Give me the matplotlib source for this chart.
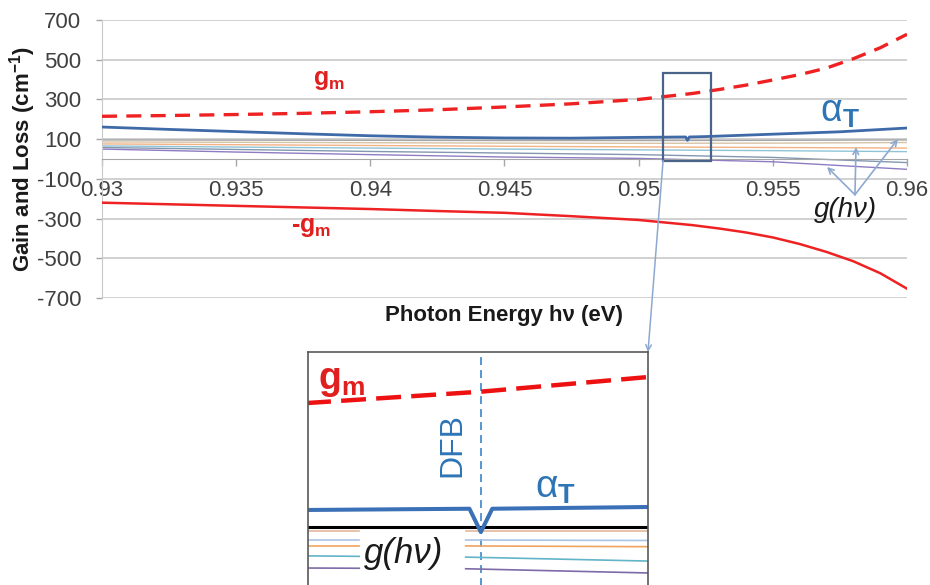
import matplotlib
matplotlib.use('Agg')
from matplotlib import pyplot as plt
from matplotlib.patches import Rectangle, ConnectionPatch

matplotlib.rcParams['font.family'] = ['Liberation Sans', 'DejaVu Sans']
matplotlib.rcParams['mathtext.fontset'] = 'custom'
matplotlib.rcParams['mathtext.rm'] = 'Liberation Sans'
matplotlib.rcParams['mathtext.it'] = 'Liberation Sans:italic'
matplotlib.rcParams['mathtext.bf'] = 'Liberation Sans:bold'
matplotlib.rcParams['axes.unicode_minus'] = False

# ---- main chart data ----
energy = [0.93, 0.9325, 0.935, 0.9375, 0.94, 0.9425, 0.945, 0.9475, 0.95, 0.951,
          0.952, 0.953, 0.954, 0.955, 0.956, 0.957, 0.958, 0.959, 0.96]
g_m = [215, 219, 224, 230, 238, 248, 262, 278, 300, 315,
       330, 350, 372, 398, 425, 458, 505, 560, 628]
minus_g_m = [-220, -228, -236, -244, -252, -262, -271, -288, -307, -320,
             -333, -350, -370, -395, -428, -468, -515, -575, -653]

energy_alpha = [0.93, 0.9325, 0.935, 0.9375, 0.94, 0.9425, 0.945, 0.9475, 0.95,
                0.95175, 0.95182, 0.95189, 0.9525, 0.955, 0.9575, 0.96]
alpha_t = [161, 149, 138, 127, 117, 110, 106, 105, 109,
           111, 94, 111, 113, 125, 137, 156]

energy_g = [0.93, 0.935, 0.94, 0.945, 0.95, 0.955, 0.96]
g_curves = [
    [96, 95, 94, 93, 93, 94, 96],
    [86, 84, 82, 80, 79, 80, 83],
    [76, 72, 68, 64, 61, 58, 55],
    [66, 60, 55, 50, 46, 42, 37],
    [58, 48, 38, 30, 22, 8, -18],
    [50, 35, 22, 10, 3, -14, -52],
]
g_colors = ['#a6a6a6', '#d8c3a5', '#f4b183', '#8fc4d6', '#8497b0', '#8e7cc3']

x_ticks = [0.93, 0.935, 0.94, 0.945, 0.95, 0.955, 0.96]
x_ticklabels = ['0.93', '0.935', '0.94', '0.945', '0.95', '0.955', '0.96']
y_ticks = [-700, -500, -300, -100, 100, 300, 500, 700]
y_ticklabels = ['-700', '-500', '-300', '-100', '100', '300', '500', '700']

# zoom window and DFB line
box_e = [0.95091, 0.95270]
box_gain = [-8, 433]
e_dfb = 0.95182

# g(hv) label arrows: tips and tail
arrow_tips_e = [0.95702, 0.95810, 0.95966]
arrow_tips_gain = [-40, 60, 100]
arrow_tail = (0.95806, -180)

# ---- inset (magnified schematic) data, arbitrary units ----
inset_e = [0.9509, 0.95182, 0.9527]
inset_g_m = [79.4, 84.0, 89.9]
inset_alpha_e = [0.9509, 0.95176, 0.95182, 0.95188, 0.9527]
inset_alpha = [36.3, 36.8, 27.4, 36.8, 37.5]
inset_black = [29.4, 29.4, 29.4]
inset_left_e = [0.9509, 0.95118]
inset_right_e = [0.95174, 0.9527]
inset_lines_left = [[28.0, 28.0], [24.3, 24.3], [21.9, 21.9], [17.8, 17.6], [12.9, 12.8]]
inset_lines_right = [[28.0, 28.0], [24.2, 24.0], [21.8, 21.5], [17.3, 15.7], [12.6, 10.9]]
inset_colors = ['#e2b89a', '#a9c4e6', '#f0a35e', '#62b4c9', '#7f6aa8']

W, H = 930, 585


def px(x, y):
    return x / W, 1 - y / H


fig = plt.figure(figsize=(9.3, 5.85), dpi=100)
ax = fig.add_axes([102 / W, 1 - 298 / H, 805 / W, 278 / H])

for v in y_ticks:
    ax.axhline(v, color='#c9c9c9', lw=1.2, zorder=0)

for curve, c in zip(g_curves, g_colors):
    ax.plot(energy_g, curve, color=c, lw=1.0, zorder=2)
ax.plot(energy_alpha, alpha_t, color='#3f6aa8', lw=2.0, zorder=3)
ax.plot(energy, g_m, color='#ee2222', lw=2.4, dashes=(4.5, 2.8), zorder=3)
ax.plot(energy, minus_g_m, color='#ee2222', lw=1.8, zorder=3)

ax.add_patch(Rectangle((box_e[0], box_gain[0]), box_e[1] - box_e[0], box_gain[1] - box_gain[0],
                       fill=False, edgecolor='#4a6388', lw=1.6, zorder=4))

ax.set_xlim(0.93, 0.96)
ax.set_ylim(-700, 700)
ax.set_xticks(x_ticks)
ax.set_xticklabels(x_ticklabels)
ax.set_yticks(y_ticks)
ax.set_yticklabels(y_ticklabels)
ax.spines['top'].set_visible(False)
ax.spines['right'].set_visible(False)
ax.spines['bottom'].set_position(('data', 0))
ax.spines['bottom'].set_color('#a6a6a6')
ax.spines['left'].set_color('#c9c9c9')
ax.tick_params(axis='x', direction='out', length=5, width=1, color='#a6a6a6',
               pad=10, labelsize=16, labelcolor='#404040')
ax.tick_params(axis='y', direction='out', length=4, width=1, color='#a6a6a6',
               pad=11, labelsize=16, labelcolor='#404040')

for tip_e, tip_g in zip(arrow_tips_e, arrow_tips_gain):
    ax.annotate('', xy=(tip_e, tip_g), xytext=arrow_tail,
                arrowprops=dict(arrowstyle='->', color='#8ea9cf', lw=1.2,
                                shrinkA=0, shrinkB=0))

fig.text(*px(23, 159), r'Gain and Loss (cm$^{\mathbf{-1}}$)', rotation=90,
         ha='center', va='center', fontsize=16, fontweight='bold', color='#1a1a1a')
fig.text(*px(504, 316), 'Photon Energy hν (eV)', ha='center', va='center',
         fontsize=16, fontweight='bold', color='#1a1a1a')

red = '#e01f1f'
blue = '#2e75b6'
fig.text(*px(329, 80), r'$\mathbf{g_m}$', ha='center', va='center', fontsize=18, color=red)
fig.text(*px(311, 227), r'-$\mathbf{g_m}$', ha='center', va='center', fontsize=18,
         fontweight='bold', color=red)
fig.text(*px(840, 112), r'$\mathregular{α}_\mathbf{T}$', ha='center', va='center',
         fontsize=27, color=blue)
fig.text(*px(845, 210), 'g(hν)', ha='center', va='center', fontsize=20,
         style='italic', color='#1a1a1a')

# ---- inset ----
ax_in = fig.add_axes([308 / W, -15 / H, 340 / W, 248 / H])
ax_in.set_xlim(box_e)
ax_in.set_ylim(0, 100)
ax_in.set_xticks([])
ax_in.set_yticks([])
for s in ax_in.spines.values():
    s.set_color('#595959')
    s.set_linewidth(1.2)

ax_in.axvline(e_dfb, color='#4a8fd0', lw=1.3, dashes=(4.4, 2.8), zorder=1)
for yl, yr, c in zip(inset_lines_left, inset_lines_right, inset_colors):
    ax_in.plot(inset_left_e, yl, color=c, lw=1.2)
    ax_in.plot(inset_right_e, yr, color=c, lw=1.2)
ax_in.plot(inset_e, inset_black, color='black', lw=2.2)
ax_in.plot(inset_alpha_e, inset_alpha, color='#3a70b5', lw=2.9)
ax_in.plot(inset_e, inset_g_m, color='#ee1111', lw=3.2, dashes=(5.6, 2.3))

fig.text(*px(342, 381), r'$\mathbf{g_m}$', ha='center', va='center', fontsize=27, color=red)
fig.text(*px(452, 445), 'DFB', rotation=90, ha='center', va='center', fontsize=23, color=blue)
fig.text(*px(556, 488), r'$\mathregular{α}_\mathbf{T}$', ha='center', va='center',
         fontsize=28, color=blue)
fig.text(*px(404, 553), 'g(hν)', ha='center', va='center', fontsize=25,
         style='italic', color='#1a1a1a')

con = ConnectionPatch(xyA=(box_e[0], box_gain[0]), coordsA=ax.transData,
                      xyB=(1, 1), coordsB=ax_in.transAxes,
                      arrowstyle='->', color='#8ea9cf', lw=1.1, shrinkA=0, shrinkB=0)
fig.add_artist(con)

fig.savefig('out.png', dpi=100)
